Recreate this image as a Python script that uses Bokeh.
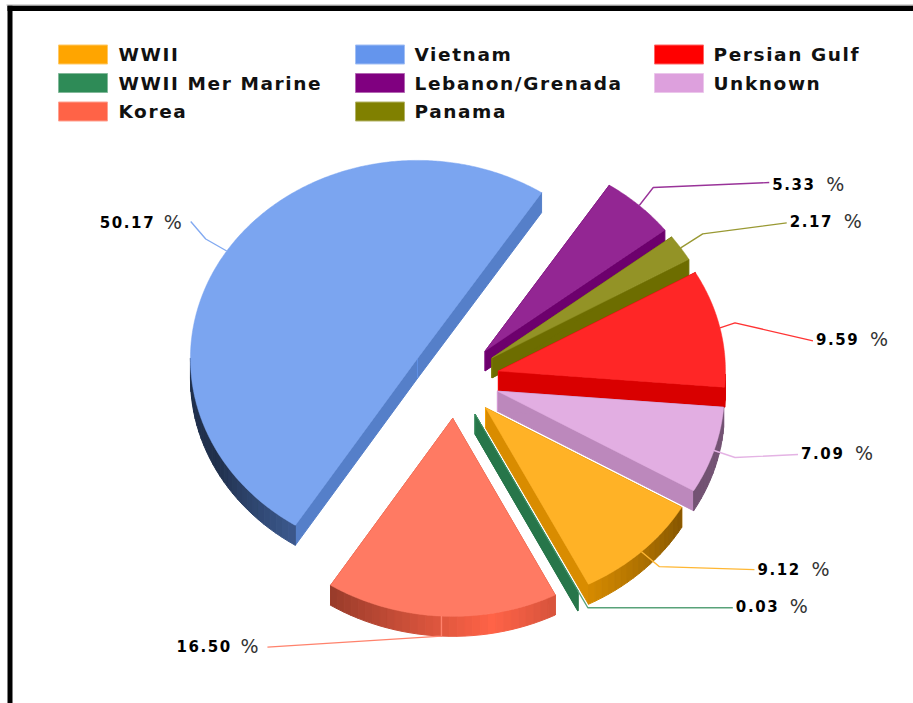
import math
from bokeh.plotting import figure
from bokeh.models import ColumnDataSource, Range1d
from bokeh.core.properties import value
from bokeh.embed import file_html
from bokeh.resources import INLINE

# ---- data -------------------------------------------------------------
names = ["WWII", "WWII Mer Marine", "Korea", "Vietnam", "Lebanon/Grenada", "Panama", "Persian Gulf", "Unknown"]
values = [9.12, 0.03, 16.50, 50.17, 5.33, 2.17, 9.59, 7.09]
colors = ["#FFA500", "#2E8B57", "#FF6347", "#6495ED", "#800080", "#808000", "#FF0000", "#DDA0DD"]

# ---- style / layout ----------------------------------------------------
W, H = 913, 703
CX, CY, RX, RY = 454.4, 379.0, 227.0, 198.0
EXPLODE, DEPTH, START = 44.6, 20.0, -30.2
# leader elbows relative to each slice's rim midpoint
leader_offsets = [[(18, 15), (113, 18)], [(10, 17), (155, 17)], [(0, 20), (-174, 31)], [(-21, -12), (-36, -29.5)],
                  [(14, -18), (130, -23)], [(22, -14), (106, -25)], [(15, -5), (93, 13)], [(21, 7), (84, 4)]]
leader_label_dy = [-1, -2, -1, 0, 1, -2, -2, -1]
legend_cols = [(58, 118), (355, 414), (654, 713)]
legend_rows = [54, 82.5, 111]
FONT = "DejaVu Sans"


def rgb(h):
    return tuple(int(h[i:i + 2], 16) for i in (1, 3, 5))


def shade(h, f):
    return "#%02x%02x%02x" % tuple(min(255, int(round(c * f))) for c in rgb(h))


def lighten(h, t=0.15):
    return "#%02x%02x%02x" % tuple(int(round(c + (255 - c) * t)) for c in rgb(h))


p = figure(width=W, height=H, x_range=Range1d(0, W), y_range=Range1d(H, 0), output_backend="svg",
           toolbar_location=None, min_border=0, outline_line_color=None, background_fill_color="white",
           border_fill_color="white")
p.axis.visible = False
p.grid.visible = False
p.styles = {"position": "absolute", "left": "0px", "top": "0px", "letter-spacing": "1.6px"}

# frame
p.quad(left=[7, 7], right=[W, 12], top=[5, 5], bottom=[10.5, H], fill_color="black", line_color=None)
p.quad(left=[6], right=[W], top=[4], bottom=[5], fill_color="#b0b0b0", line_color=None)

# slices (clockwise from START, legend order)
slices = []
a = START
for i, v in enumerate(values):
    sweep = v / 100 * 360
    a0, a1 = a - sweep, a
    mid = math.radians((a0 + a1) / 2)
    ax = CX + EXPLODE * math.cos(mid)
    ay = CY - EXPLODE * RY / RX * math.sin(mid)
    slices.append(dict(i=i, a0=a0, a1=a1, mid=mid, ax=ax, ay=ay))
    a = a0


def rim(s, ang):
    t = math.radians(ang)
    return s["ax"] + RX * math.cos(t), s["ay"] - RY * math.sin(t)


def brightness(ang):
    d = ((ang - 280) + 180) % 360 - 180
    return max(0.32, 1 - 0.0095 * abs(d)) if d < 0 else max(0.52, 1 - 0.0095 * d)


order = sorted(slices, key=lambda s: -math.sin(s["mid"]))
for s in order:
    c = colors[s["i"]]
    xs, ys, fc = [], [], []
    # radial side walls
    for ang in (s["a0"], s["a1"]):
        x1, y1 = rim(s, ang)
        xs.append([s["ax"], x1, x1, s["ax"]])
        ys.append([s["ay"], y1, y1 + DEPTH, s["ay"] + DEPTH])
        fc.append(shade(c, 0.85))
    # outer rim, front half only, in strips
    n = max(1, int(math.ceil((s["a1"] - s["a0"]) / 2)))
    strips = []
    for k in range(n):
        b0 = s["a0"] + (s["a1"] - s["a0"]) * k / n
        b1 = s["a0"] + (s["a1"] - s["a0"]) * (k + 1) / n
        if math.sin(math.radians((b0 + b1) / 2)) < 0:
            strips.append((b0, b1))
    short_rim = sum(q[1] - q[0] for q in strips) < 7
    for b0, b1 in strips:
        x0, y0 = rim(s, b0)
        x1, y1 = rim(s, b1)
        xs.append([x0, x1, x1, x0])
        ys.append([y0, y1, y1 + DEPTH, y0 + DEPTH])
        fc.append(shade(c, 0.85 if short_rim else brightness((b0 + b1) / 2)))
    p.patches("x", "y", source=ColumnDataSource(dict(x=xs, y=ys, c=fc)), fill_color="c", line_color="c", line_width=1)
    # seam at the inner corner of the side walls
    p.line([s["ax"], s["ax"]], [s["ay"], s["ay"] + DEPTH], line_color=shade(c, 0.97), line_width=1)
    # top face
    m = max(2, int((s["a1"] - s["a0"]) * 2))
    pts = [rim(s, s["a0"] + (s["a1"] - s["a0"]) * k / m) for k in range(m + 1)]
    p.patch([s["ax"]] + [q[0] for q in pts], [s["ay"]] + [q[1] for q in pts],
            fill_color=lighten(c), line_color=lighten(c), line_width=0.5)

# leaders and labels
for s in slices:
    i = s["i"]
    sx, sy = rim(s, math.degrees(s["mid"]))
    lx = [sx] + [sx + o[0] for o in leader_offsets[i]]
    ly = [sy] + [sy + o[1] for o in leader_offsets[i]]
    p.line(lx, ly, line_color=lighten(colors[i], 0.2), line_width=1.4)
    left_side = lx[-1] < CX - 100
    tx = lx[-1] - 91 if left_side else lx[-1] + 3
    ty = ly[-1] + leader_label_dy[i]
    label = "%.2f" % values[i]
    p.text([tx], [ty], text=[label], text_font=value(FONT), text_font_style="bold",
           text_font_size="15px", text_color="black", text_baseline="middle", text_align="left")
    p.text([tx + (64 if len(label) == 5 else 54)], [ty], text=["%"], text_font=value(FONT), text_font_size="19px",
           text_color="#333333", text_baseline="middle", text_align="left")

# legend
for i, nm in enumerate(names):
    if i >= 6:
        col, row = 2, i - 6
    elif i >= 3:
        col, row = 1, i - 3
    else:
        col, row = 0, i
    sw, tx = legend_cols[col]
    y = legend_rows[row]
    p.quad(left=[sw], right=[sw + 49], top=[y - 9.5], bottom=[y + 9.5], fill_color=colors[i],
           line_color=lighten(colors[i], 0.4), line_width=1)
    p.text([tx], [y], text=[nm], text_font=value(FONT), text_font_style="bold", text_font_size="18.5px",
           text_color="#111111", text_baseline="middle", text_align="left")

open("out.html", "w").write(file_html(p, INLINE))
